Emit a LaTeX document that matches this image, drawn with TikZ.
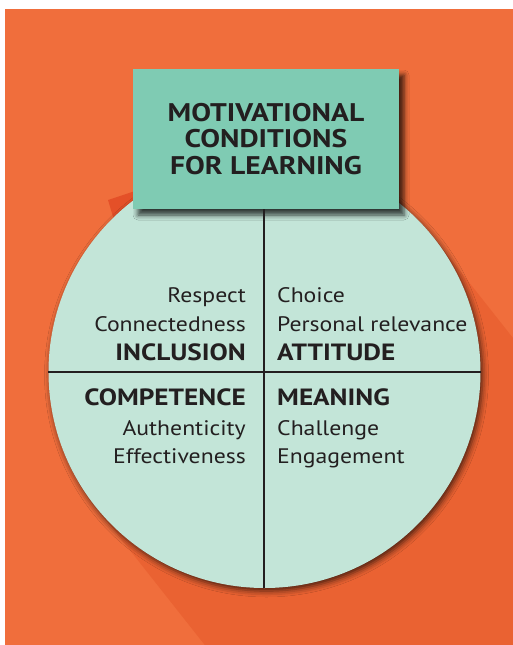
\documentclass[tikz,border=0pt]{standalone}
\usepackage{fontspec}
\setmainfont{PT Sans}[FakeStretch=1.13, BoldFeatures={FakeStretch=1.16}]
\usetikzlibrary{shadows.blur}
\definecolor{bgorange}{RGB}{240,110,60}
\definecolor{shadeorange}{RGB}{234,98,50}
\definecolor{redsliver}{RGB}{228,80,40}
\definecolor{boxteal}{RGB}{127,203,179}
\definecolor{circmint}{RGB}{195,229,216}
\definecolor{ink}{RGB}{35,31,32}
\tikzset{
  item/.style={font=\fontsize{21}{25}\selectfont, text=ink, inner sep=0pt},
  head/.style={font=\fontsize{23.5}{27}\selectfont\bfseries, text=ink, inner sep=0pt},
  divider/.style={draw=ink, line width=2.2pt},
}
\begin{document}
\begin{tikzpicture}[x=1pt,y=-1pt]
\useasboundingbox (0,0) rectangle (513,645);
\fill[white] (0,0) rectangle (513,645);
\fill[bgorange] (5,9) rectangle (513,645);
% long shadow
\begin{scope}
\clip (5,9) rectangle (513,645);
\fill[shadeorange] (434,238) -- (934,871) -- (595,1139) -- (95,506) -- cycle;
\fill[redsliver] (108,200) -- (135,191) -- (135,213) -- (114,220) -- cycle;
\end{scope}
% circle
\node[circle, minimum size=432pt, inner sep=0pt, fill=circmint,
  blur shadow={shadow xshift=2pt, shadow yshift=-3pt, shadow blur radius=6pt, shadow opacity=70}]
  (disc) at (264.5,372) {};
% title box
\node[rectangle, minimum width=266pt, minimum height=140pt, inner sep=0pt, fill=boxteal,
  blur shadow={shadow xshift=5pt, shadow yshift=-6pt, shadow blur radius=5pt, shadow opacity=75},
  align=center, font=\fontsize{25.5}{26}\selectfont\bfseries, text=ink]
  (title) at (266,139) {MOTIVATIONAL\\[0.5pt]CONDITIONS\\[0.5pt]FOR LEARNING};
% dividers
\coordinate (vtop) at (264,209);
\coordinate (vbot) at (264,588);
\draw[divider] (vtop) -- (vbot);
\draw[divider] (disc.west) -- (disc.east);
% upper left
\node[item, anchor=base east] (respect) at (246,302) {Respect};
\node[item, anchor=base east] (connect) at (246,331.5) {Connectedness};
\node[head, anchor=base east] (inclusion) at (246,360) {INCLUSION};
% upper right
\node[item, anchor=base west] (choice) at (277,302) {Choice};
\node[item, anchor=base west] (personal) at (277,331.5) {Personal relevance};
\node[head, anchor=base west] (attitude) at (277,360) {ATTITUDE};
% lower left
\node[head, anchor=base east] (competence) at (246,405) {COMPETENCE};
\node[item, anchor=base east] (authentic) at (246,435) {Authenticity};
\node[item, anchor=base east] (effective) at (246,463.5) {Effectiveness};
% lower right
\node[head, anchor=base west] (meaning) at (277,405) {MEANING};
\node[item, anchor=base west] (challenge) at (277,435) {Challenge};
\node[item, anchor=base west] (engage) at (277,463.5) {Engagement};
\end{tikzpicture}
\end{document}
